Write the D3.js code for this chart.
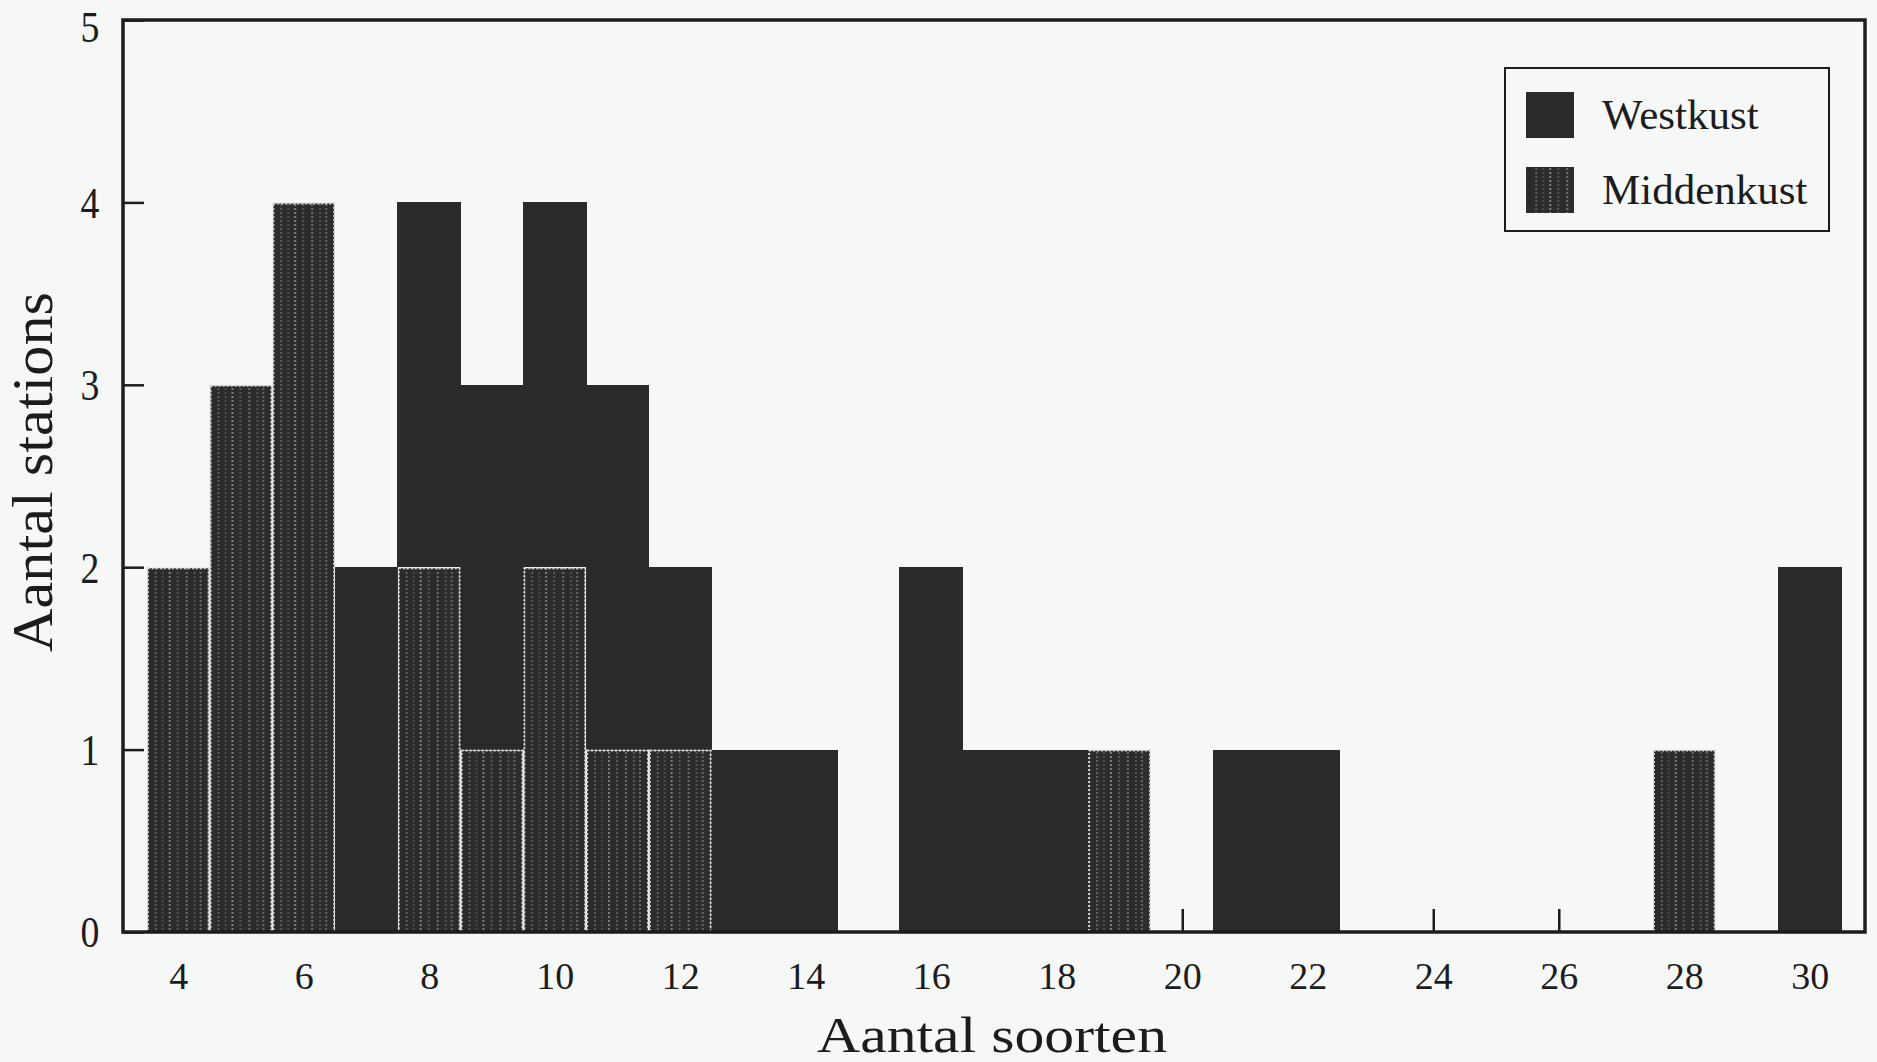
<!DOCTYPE html>
<html>
<head>
<meta charset="utf-8">
<script src="https://d3js.org/d3.v7.min.js"></script>
<style>
  body { margin: 0; background: #f6f7f7; }
  text { font-family: "Liberation Serif", "Times New Roman", serif; fill: #1c1c1c; }
</style>
</head>
<body>
<div id="chart"></div>
<script>
// aantal soorten (bins) and counts per kust
var soorten    = [4, 5, 6, 7, 8, 9, 10, 11, 12, 13, 14, 15, 16, 17, 18, 19, 20, 21, 22, 23, 24, 25, 26, 27, 28, 29, 30];
var westkust   = [0, 0, 0, 2, 2, 2, 2,  2,  1,  1,  1,  0,  2,  1,  1,  0,  0,  1,  1,  0,  0,  0,  0,  0,  0,  0,  2];
var middenkust = [2, 3, 4, 0, 2, 1, 2,  1,  1,  0,  0,  0,  0,  0,  0,  1,  0,  0,  0,  0,  0,  0,  0,  0,  1,  0,  0];
var xTicks = [4, 6, 8, 10, 12, 14, 16, 18, 20, 22, 24, 26, 28, 30];
var yTicks = [0, 1, 2, 3, 4, 5];
var keys = ["Middenkust", "Westkust"];

var svgWidth = 1877;
var svgHeight = 1062;

var svg = d3.select("#chart")
  .append("svg")
  .attr("width", svgWidth)
  .attr("height", svgHeight);

var xScale = d3.scaleLinear()
  .domain([3.12, 30.88])
  .range([123, 1865]);

var yScale = d3.scaleLinear()
  .domain([0, 5])
  .range([932, 20]);

var bw = xScale(1) - xScale(0);

// pattern for Middenkust: dark with a few light dotted vertical lines
var defs = svg.append("defs");
var pat = defs.append("pattern")
  .attr("id", "midden")
  .attr("patternUnits", "userSpaceOnUse")
  .attr("x", xScale(3.5))
  .attr("y", 0)
  .attr("width", bw)
  .attr("height", 4);
pat.append("rect").attr("width", bw).attr("height", 4).attr("fill", "#2c2c2c");
var stripes = [[8, 0.35], [15, 0.2], [22, 0.55], [30, 0.3], [39, 0.45], [47, 0.25], [53, 0.4]];
stripes.forEach(function(s) {
  pat.append("rect")
    .attr("x", s[0]).attr("y", 0)
    .attr("width", 1.6).attr("height", 2)
    .attr("fill", "#e4e4e4")
    .attr("opacity", s[1]);
});

var data = soorten.map(function(s, i) {
  return {soort: s, Westkust: westkust[i], Middenkust: middenkust[i]};
});

// axes (inward ticks)
var xAxis = d3.axisBottom(xScale)
  .tickValues(xTicks)
  .tickSizeInner(-23)
  .tickSizeOuter(0)
  .tickPadding(30)
  .tickFormat(d3.format("d"));

var yAxis = d3.axisLeft(yScale)
  .tickValues(yTicks)
  .tickSizeInner(-21)
  .tickSizeOuter(0)
  .tickFormat("");

var gx = svg.append("g")
  .attr("transform", `translate(0, ${yScale(0)})`)
  .call(xAxis);
gx.select(".domain").remove();
gx.selectAll("line").attr("stroke", "#1c1c1c").attr("stroke-width", 2.5);
gx.selectAll("text")
  .attr("font-size", 38)
  .attr("font-family", "Liberation Serif")
  .attr("fill", "#1c1c1c")
  .attr("dy", "0.71em");

var gy = svg.append("g")
  .attr("transform", `translate(${xScale.range()[0]}, 0)`)
  .call(yAxis);
gy.select(".domain").remove();
gy.selectAll("line").attr("stroke", "#1c1c1c").attr("stroke-width", 2.5);

svg.append("g")
  .selectAll("text")
  .data(yTicks)
  .enter()
  .append("text")
  .attr("transform", d => `translate(90, ${Math.max(yScale(d), 27)}) scale(1.05, 1.25)`)
  .attr("text-anchor", "middle")
  .attr("dy", "0.34em")
  .attr("font-size", 36)
  .text(d => d);

// stacked bars
var stacked = d3.stack().keys(keys)(data);

svg.append("g")
  .attr("shape-rendering", "crispEdges")
  .selectAll("rect")
  .data(stacked[1].filter(d => d.data.Westkust > 0))
  .enter()
  .append("rect")
  .attr("x", d => xScale(d.data.soort - 0.5) - 0.5)
  .attr("y", d => yScale(d[1]))
  .attr("width", bw + 1)
  .attr("height", d => yScale(d[0]) - yScale(d[1]))
  .attr("fill", "#2a2a2a");

svg.append("g")
  .selectAll("rect")
  .data(stacked[0].filter(d => d.data.Middenkust > 0))
  .enter()
  .append("rect")
  .attr("x", d => xScale(d.data.soort - 0.5) + 1)
  .attr("y", d => yScale(d[1]) + 1)
  .attr("width", bw - 2)
  .attr("height", d => yScale(d[0]) - yScale(d[1]) - 1)
  .attr("fill", "url(#midden)")
  .attr("stroke", "#d6d6d6")
  .attr("stroke-width", 2)
  .attr("stroke-dasharray", "2 2");

// frame
svg.append("rect")
  .attr("x", xScale.range()[0])
  .attr("y", yScale(5))
  .attr("width", xScale.range()[1] - xScale.range()[0])
  .attr("height", yScale(0) - yScale(5))
  .attr("fill", "none")
  .attr("stroke", "#1c1c1c")
  .attr("stroke-width", 3.5);

// axis titles
svg.append("text")
  .attr("x", 992)
  .attr("y", 1052)
  .attr("text-anchor", "middle")
  .attr("font-size", 50)
  .attr("textLength", 350)
  .attr("lengthAdjust", "spacingAndGlyphs")
  .text("Aantal soorten");

svg.append("text")
  .attr("transform", "translate(52, 472) rotate(-90)")
  .attr("text-anchor", "middle")
  .attr("font-size", 56)
  .attr("textLength", 360)
  .attr("lengthAdjust", "spacingAndGlyphs")
  .text("Aantal stations");

// legend
var legend = svg.append("g");
legend.append("rect")
  .attr("x", 1505).attr("y", 68)
  .attr("width", 324).attr("height", 163)
  .attr("fill", "none")
  .attr("stroke", "#1c1c1c")
  .attr("stroke-width", 2);

var legendItems = [{label: "Westkust", fill: "#2a2a2a", y: 92}, {label: "Middenkust", fill: "url(#midden)", y: 167}];
legend.selectAll("g.item")
  .data(legendItems)
  .enter()
  .append("g")
  .attr("class", "item")
  .each(function(d) {
    var g = d3.select(this);
    g.append("rect")
      .attr("x", 1526).attr("y", d.y)
      .attr("width", 48).attr("height", 46)
      .attr("fill", d.fill);
    g.append("text")
      .attr("x", 1602).attr("y", d.y + 37)
      .attr("font-size", 43)
      .text(d.label);
  });
</script>
</body>
</html>
